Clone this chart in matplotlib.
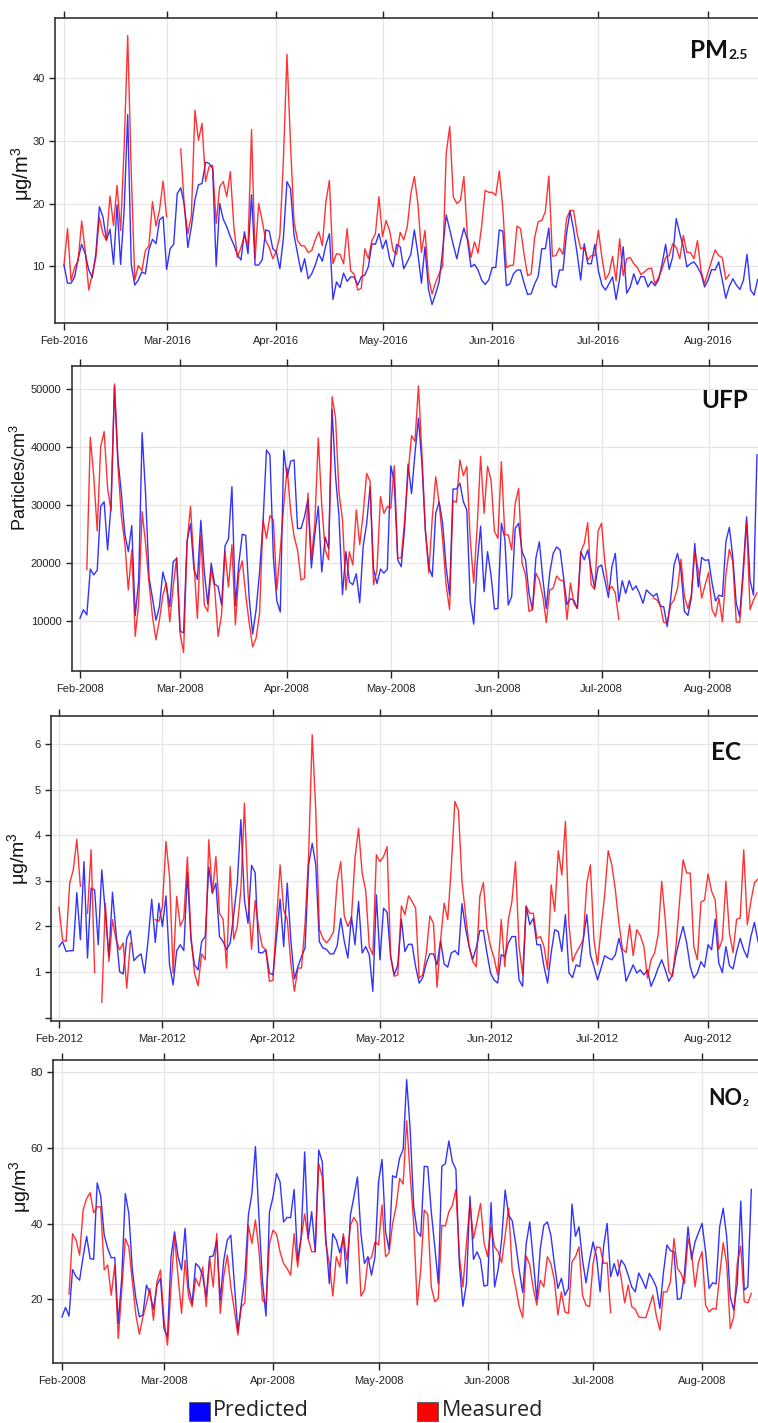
import matplotlib
matplotlib.use("Agg")
import matplotlib.pyplot as plt
import matplotlib.dates as mdates
from matplotlib.patches import Rectangle
import numpy as np
import pandas as pd

plt.rcParams["font.family"] = ["Liberation Sans", "DejaVu Sans"]
plt.rcParams["mathtext.fontset"] = "custom"
plt.rcParams["mathtext.rm"] = "Liberation Sans"

nan = np.nan

# daily values from Feb 1
pm_pred = [
    10.2, 7.3, 7.3, 8.3, 11.2, 13.5, 12.0, 9.4, 8.2, 12.0,
    19.5, 17.9, 14.2, 15.9, 10.3, 19.8, 10.3, 19.0, 34.2, 10.3,
    7.0, 7.8, 9.1, 8.8, 12.6, 14.3, 13.6, 17.4, 17.9, 9.5,
    12.8, 13.5, 21.6, 22.5, 19.8, 13.0, 16.3, 20.6, 23.0, 23.2,
    26.6, 26.4, 25.6, 10.0, 20.0, 17.5, 16.3, 14.7, 13.4, 11.8,
    11.0, 15.5, 12.0, 21.4, 10.2, 10.2, 11.0, 15.8, 15.6, 12.8,
    12.3, 9.6, 14.5, 23.5, 22.4, 15.0, 12.0, 9.1, 11.2, 8.0,
    8.8, 10.2, 12.0, 10.8, 13.4, 15.2, 4.7, 7.5, 6.6, 8.9,
    7.6, 8.3, 8.3, 7.0, 8.3, 8.6, 9.9, 13.6, 13.5, 15.2,
    12.8, 14.2, 11.2, 9.9, 13.5, 13.1, 9.6, 10.7, 11.9, 15.8,
    12.0, 7.3, 13.1, 6.3, 3.9, 5.6, 7.5, 12.6, 18.2, 15.8,
    13.4, 11.2, 13.9, 16.1, 14.2, 9.9, 10.3, 9.4, 7.8, 7.1,
    7.8, 9.8, 9.8, 15.8, 15.6, 6.9, 7.2, 8.8, 9.4, 9.4,
    7.3, 5.5, 5.6, 7.2, 8.4, 12.8, 12.8, 16.1, 7.1, 6.6,
    9.4, 9.4, 15.2, 18.8, 15.8, 12.0, 7.8, 13.6, 10.4, 10.4,
    13.5, 9.3, 7.0, 6.2, 7.2, 8.3, 4.7, 8.0, 13.1, 5.7,
    6.7, 8.8, 7.1, 8.4, 8.3, 6.7, 7.6, 6.9, 7.8, 10.4,
    13.5, 9.5, 11.5, 17.6, 15.2, 13.1, 9.9, 10.4, 10.7, 9.9,
    8.8, 6.7, 7.8, 9.5, 9.4, 10.7, 7.8, 4.9, 6.8, 8.0,
    7.0, 6.3, 7.8, 11.9, 6.2, 5.4, 7.9,
]
pm_meas = [
    10.2, 16.0, 7.7, 9.8, 10.9, 17.2, 12.5, 6.2, 8.8, 11.4,
    17.8, 15.2, 14.1, 21.2, 16.5, 22.9, 15.7, 29.0, 46.8, 25.0,
    7.8, 10.1, 9.3, 12.5, 13.3, 20.3, 16.4, 19.0, 23.6, 17.9,
    nan, nan, nan, 28.7, 19.5, 15.2, 18.1, 34.9, 30.1, 32.8,
    23.5, 25.9, 26.1, 16.8, 22.7, 23.5, 21.1, 25.1, 16.3, 11.4,
    13.0, 14.9, 13.3, 31.8, 11.2, 20.0, 17.3, 14.1, 13.0, 11.2,
    12.4, 14.9, 27.0, 43.8, 29.6, 17.1, 14.1, 13.3, 13.2, 12.2,
    12.5, 14.2, 15.5, 13.3, 20.3, 23.7, 10.4, 12.0, 11.9, 10.4,
    16.0, 9.3, 8.7, 6.2, 6.5, 12.8, 11.2, 14.1, 15.2, 21.1,
    14.7, 17.3, 15.7, 12.5, 11.9, 15.4, 14.2, 16.3, 21.6, 24.3,
    20.0, 12.2, 15.7, 8.2, 5.6, 7.4, 8.8, 10.1, 28.0, 32.3,
    21.1, 20.0, 20.5, 24.3, 14.7, 11.4, 13.9, 12.1, 16.3, 22.1,
    21.8, 21.8, 21.3, 25.2, 19.2, 9.8, 10.1, 10.2, 16.4, 16.0,
    11.9, 8.5, 8.8, 14.6, 17.1, 17.3, 18.7, 24.4, 11.6, 11.7,
    12.9, 11.9, 17.6, 18.9, 18.9, 15.2, 12.8, 13.0, 11.0, 11.7,
    11.7, 15.7, 11.4, 7.9, 8.8, 11.6, 7.7, 14.4, 8.5, 11.2,
    11.4, 10.4, 9.8, 8.7, 9.1, 9.6, 9.7, 7.2, 8.2, 9.6,
    11.4, 11.7, 13.6, 13.0, 11.2, 14.9, 12.2, 12.2, 11.2, 14.1,
    9.3, 7.2, 9.1, 10.9, 12.6, 11.7, 11.4, 7.9, 8.7,
]

ufp_pred = [
    10.5, 12.0, 11.1, 19.0, 18.0, 18.8, 29.8, 30.6, 22.3, 30.0,
    50.5, 38.0, 32.0, 25.0, 22.0, 26.5, 11.0, 17.0, 42.5, 32.0,
    17.5, 14.0, 10.2, 12.5, 18.5, 16.2, 12.5, 20.3, 20.8, 8.3,
    8.0, 23.8, 26.8, 19.0, 17.2, 27.4, 18.5, 13.0, 20.0, 16.4,
    16.0, 12.8, 23.0, 24.2, 33.2, 12.7, 20.0, 25.0, 24.8, 14.0,
    7.8, 12.0, 18.5, 27.0, 39.5, 38.7, 21.0, 13.5, 11.6, 39.5,
    34.8, 37.6, 37.8, 26.0, 26.0, 28.0, 31.0, 19.2, 25.0, 29.8,
    18.5, 24.5, 22.5, 46.5, 35.0, 28.0, 14.6, 22.0, 16.8, 16.3,
    18.2, 13.2, 23.0, 26.8, 33.2, 19.0, 16.5, 19.0, 18.3, 19.0,
    36.8, 34.0, 20.6, 19.4, 26.0, 37.1, 32.0, 39.0, 45.0, 37.2,
    25.7, 19.4, 17.7, 28.6, 30.6, 26.9, 19.4, 14.5, 32.8, 32.8,
    33.8, 30.6, 29.2, 13.4, 9.5, 20.0, 26.4, 15.1, 22.0, 18.0,
    12.1, 12.2, 26.9, 24.3, 12.8, 14.3, 26.0, 26.9, 22.0, 20.6,
    14.8, 12.0, 20.9, 23.7, 17.4, 12.2, 18.3, 21.7, 22.8, 22.3,
    17.6, 12.9, 13.9, 13.6, 12.2, 22.0, 20.6, 22.3, 18.9, 15.7,
    19.3, 19.7, 17.0, 14.1, 19.4, 21.7, 13.4, 17.0, 14.8, 17.0,
    15.4, 16.1, 14.8, 13.1, 15.4, 14.8, 14.3, 14.8, 12.6, 12.5,
    9.1, 13.8, 19.7, 21.7, 18.7, 11.7, 11.0, 14.0, 23.4, 15.9,
    21.0, 20.5, 20.6, 16.6, 13.5, 14.5, 14.3, 23.7, 26.2, 21.1,
    13.1, 10.8, 18.9, 28.0, 17.1, 14.5, 38.7,
]
ufp_meas = [
    nan, nan, 18.9, 41.7, 35.0, 25.6, 40.1, 42.7, 33.0, 29.0,
    50.9, 36.7, 28.0, 23.4, 15.4, 22.3, 7.4, 13.1, 28.9, 23.4,
    16.6, 10.8, 6.8, 10.2, 14.5, 16.6, 9.9, 16.0, 21.0, 7.9,
    4.6, 23.4, 29.8, 20.3, 10.5, 24.9, 12.8, 11.7, 18.9, 15.7,
    7.4, 11.1, 22.1, 15.9, 23.2, 9.4, 18.3, 20.4, 14.5, 9.7,
    5.6, 7.1, 11.3, 27.5, 24.3, 28.2, 27.5, 15.4, 22.3, 30.0,
    36.4, 28.9, 24.6, 22.3, 17.1, 17.4, 32.1, 20.6, 26.9, 41.6,
    30.0, 22.3, 20.6, 48.7, 45.0, 32.1, 27.5, 15.4, 22.0, 19.7,
    29.2, 23.2, 28.6, 35.5, 34.1, 16.3, 18.9, 31.5, 28.6, 29.8,
    29.5, 36.8, 20.9, 20.9, 27.5, 35.5, 42.0, 41.0, 50.6, 39.0,
    25.7, 18.3, 27.8, 34.9, 30.3, 24.0, 16.3, 12.0, 30.8, 30.5,
    37.8, 35.1, 36.7, 24.0, 16.6, 26.3, 38.4, 28.6, 36.7, 34.4,
    25.5, 24.3, 37.5, 24.9, 24.9, 22.3, 30.3, 32.9, 20.0, 18.0,
    11.7, 12.0, 18.3, 17.1, 14.3, 9.8, 15.4, 15.7, 17.8, 17.1,
    17.0, 10.3, 16.6, 13.1, 12.2, 22.0, 23.4, 27.0, 16.3, 15.5,
    25.5, 26.9, 20.0, 15.4, 16.0, 14.9, 10.3, nan, nan, nan,
    nan, nan, nan, nan, nan, nan, 14.0, 13.7, 12.8, 9.8,
    9.7, 12.8, 13.7, 15.7, 20.7, 14.3, 12.2, 14.5, 22.0, 18.9,
    14.0, 16.3, 18.4, 12.0, 10.8, 14.0, 9.9, 18.0, 22.4, 20.3,
    9.9, 9.8, 17.7, 27.2, 12.0, 13.7, 14.9,
]

ec_pred = [
    1.56, 1.67, 1.45, 1.47, 1.47, 2.74, 1.71, 3.42, 1.31, 2.84,
    2.80, 1.60, 3.24, 2.30, 1.34, 2.75, 1.85, 1.01, 0.96, 1.74,
    1.91, 1.25, 1.34, 1.40, 0.98, 1.71, 2.60, 1.65, 2.51, 2.00,
    2.67, 1.16, 0.72, 1.47, 1.60, 1.47, 3.18, 1.71, 1.16, 1.05,
    1.67, 1.78, 3.30, 2.73, 2.95, 1.78, 1.67, 1.49, 1.64, 2.26,
    2.96, 4.34, 2.58, 2.07, 3.34, 3.18, 1.43, 1.42, 1.49, 0.98,
    0.94, 1.78, 2.60, 1.56, 2.95, 1.71, 0.85, 1.12, 1.34, 1.53,
    3.35, 3.82, 3.35, 1.67, 1.53, 1.50, 1.40, 1.40, 1.58, 2.18,
    1.67, 1.31, 2.22, 1.60, 2.55, 1.42, 1.56, 1.38, 0.58, 2.69,
    1.27, 2.40, 2.31, 1.34, 0.94, 1.16, 2.16, 1.45, 1.61, 1.61,
    1.12, 0.76, 0.88, 1.20, 1.40, 1.40, 1.16, 1.69, 1.18, 1.11,
    1.42, 1.47, 1.38, 2.50, 1.96, 1.56, 1.28, 1.53, 1.91, 1.91,
    1.42, 0.98, 0.83, 0.76, 1.38, 1.34, 1.64, 1.78, 1.78, 0.83,
    0.69, 2.45, 2.04, 2.18, 1.60, 1.60, 1.12, 0.76, 1.42, 1.93,
    1.89, 1.45, 2.26, 0.98, 0.88, 1.16, 1.12, 1.71, 2.26, 1.38,
    1.12, 0.83, 1.09, 1.36, 1.31, 1.27, 1.38, 1.74, 1.42, 0.80,
    0.98, 1.16, 0.98, 1.05, 0.94, 1.05, 0.69, 0.87, 1.09, 1.27,
    1.05, 0.80, 0.94, 1.38, 1.71, 2.00, 1.64, 1.12, 0.87, 0.98,
    1.23, 1.11, 1.60, 1.49, 2.16, 1.20, 0.99, 1.56, 1.14, 1.07,
    1.45, 1.74, 1.49, 1.32, 1.78, 2.09, 1.67,
]
ec_meas = [
    2.42, 1.71, 1.67, 2.95, 3.24, 3.91, 2.88, nan, 2.29, 3.68,
    0.99, nan, 0.34, 2.51, 1.23, 2.15, 1.71, 1.49, 1.64, 0.65,
    1.64, nan, nan, nan, nan, nan, nan, 2.15, 2.11, 2.44,
    3.86, 3.09, 0.98, 2.66, 2.01, 2.18, 3.52, 1.80, 0.98, 0.70,
    1.40, 1.27, 3.90, 2.73, 3.53, 2.29, 2.16, 1.09, 3.31, 1.72,
    2.00, 2.80, 4.70, 2.73, 1.50, 2.57, 1.96, 1.56, 1.49, 0.80,
    0.82, 2.15, 3.35, 2.36, 2.15, 1.20, 0.58, 1.09, 1.09, 2.07,
    3.57, 6.20, 4.55, 1.94, 1.74, 1.64, 1.74, 1.89, 2.99, 3.42,
    2.22, 2.00, 2.18, 3.50, 4.15, 3.17, 2.79, 1.56, 1.38, 3.57,
    3.42, 3.53, 3.75, 1.34, 0.91, 0.94, 2.45, 2.26, 2.67, 2.55,
    2.40, 0.87, 0.94, 1.42, 2.23, 2.07, 0.67, 1.71, 2.51, 2.15,
    3.31, 4.74, 4.55, 2.99, 2.26, 1.56, 1.23, 1.12, 2.66, 2.96,
    1.96, 1.56, 1.31, 0.94, 2.15, 1.12, 2.15, 2.55, 3.42, 1.56,
    0.94, 2.44, 2.29, 2.29, 1.74, 1.78, 1.56, 1.05, 2.91, 2.33,
    3.66, 3.13, 4.30, 2.04, 1.23, 1.42, 1.56, 1.71, 2.95, 3.35,
    1.71, 1.16, 1.96, 2.69, 3.66, 3.35, 2.80, 2.07, 1.50, 1.43,
    2.04, 1.36, 1.93, 1.80, 1.56, 0.87, 1.27, 1.42, 1.82, 2.99,
    2.15, 1.01, 0.91, 1.56, 2.55, 3.46, 3.17, 3.17, 1.56, 1.27,
    2.53, 2.58, 3.15, 2.77, 2.58, 1.50, 1.71, 2.99, 1.85, 1.43,
    2.16, 2.18, 3.68, 2.04, 2.55, 2.96, 3.04,
]

no2_pred = [
    15.4, 17.9, 15.6, 27.9, 26.0, 25.1, 31.3, 36.7, 30.8, 30.6,
    50.8, 47.4, 37.0, 33.5, 31.0, 31.1, 13.7, 26.0, 48.0, 42.7,
    27.8, 20.3, 15.4, 15.9, 23.8, 21.6, 17.4, 23.8, 25.6, 12.3,
    10.1, 31.3, 37.9, 31.3, 27.8, 38.8, 23.3, 18.9, 29.5, 28.6,
    26.2, 20.7, 31.3, 31.5, 35.7, 19.8, 30.4, 35.7, 37.0, 24.2,
    11.5, 18.9, 26.0, 42.3, 48.0, 60.4, 41.9, 24.7, 15.6, 43.2,
    47.1, 53.3, 51.1, 40.5, 41.7, 41.6, 49.1, 30.4, 36.6, 59.0,
    36.1, 43.2, 32.6, 59.5, 56.4, 36.6, 24.2, 37.4, 35.7, 32.3,
    36.6, 24.2, 42.3, 47.1, 52.4, 37.4, 29.5, 31.3, 26.4, 31.3,
    51.1, 57.0, 37.9, 33.2, 52.7, 52.2, 57.4, 59.6, 78.1, 64.8,
    44.5, 37.9, 36.7, 55.2, 55.1, 43.2, 33.9, 24.2, 55.2, 55.9,
    61.9, 56.4, 54.4, 29.1, 18.2, 24.2, 47.3, 30.6, 32.6, 30.4,
    23.5, 23.8, 45.6, 23.3, 27.8, 35.7, 48.9, 42.3, 40.8, 34.8,
    27.8, 21.8, 34.8, 40.5, 30.4, 20.0, 33.5, 39.6, 40.5, 37.0,
    29.5, 22.9, 25.6, 21.1, 22.9, 45.2, 36.7, 39.2, 30.4, 24.4,
    30.4, 35.2, 31.3, 22.0, 34.1, 40.1, 26.0, 29.5, 26.2, 30.4,
    29.1, 26.4, 23.3, 22.0, 27.0, 25.1, 22.9, 26.9, 25.3, 23.2,
    17.6, 27.0, 34.4, 32.9, 32.6, 20.0, 20.3, 26.9, 39.2, 30.6,
    35.2, 37.7, 40.1, 32.6, 22.9, 24.4, 24.1, 39.2, 44.1, 36.6,
    20.7, 17.2, 24.2, 46.0, 22.5, 23.3, 49.1,
]
no2_meas = [
    nan, nan, 21.4, 37.4, 35.7, 31.7, 43.6, 46.7, 48.2, 42.9,
    44.5, 44.5, 27.8, 29.1, 21.1, 29.1, 9.7, 22.5, 36.1, 33.9,
    24.7, 15.9, 10.8, 15.4, 18.9, 22.9, 14.5, 24.7, 27.8, 14.5,
    7.9, 23.3, 36.7, 26.0, 16.3, 30.4, 20.7, 18.1, 25.6, 23.5,
    28.6, 18.1, 30.8, 23.3, 37.4, 16.3, 26.2, 31.7, 23.3, 17.2,
    10.6, 18.1, 19.1, 39.6, 34.8, 41.0, 33.0, 19.8, 18.9, 34.8,
    38.3, 37.3, 32.6, 29.5, 28.2, 26.4, 37.4, 28.6, 36.1, 42.6,
    36.1, 32.6, 32.6, 55.9, 52.4, 34.8, 29.5, 20.9, 31.3, 28.6,
    37.4, 30.4, 39.6, 41.7, 40.1, 20.9, 22.5, 30.4, 31.1, 35.2,
    34.4, 45.0, 31.3, 32.3, 40.1, 44.5, 52.0, 50.5, 67.2, 52.9,
    40.1, 18.5, 27.8, 43.6, 42.5, 23.3, 19.4, 20.3, 39.6, 39.4,
    43.2, 44.9, 49.1, 31.3, 23.3, 34.8, 45.4, 36.1, 40.5, 45.4,
    35.0, 31.3, 39.2, 33.9, 32.6, 29.7, 37.0, 44.1, 27.8, 23.3,
    18.1, 15.2, 31.5, 29.1, 22.9, 18.5, 25.1, 23.3, 31.3, 29.5,
    25.1, 15.9, 22.0, 16.7, 16.3, 29.9, 31.3, 33.9, 21.1, 18.5,
    18.1, 29.5, 33.9, 33.7, 29.5, 29.7, 16.5, nan, 30.4, 25.6,
    19.1, 23.8, 18.1, 17.4, 15.4, 15.2, 15.2, 18.1, 21.1, 15.6,
    11.9, 22.0, 22.0, 24.7, 36.1, 28.2, 26.9, 24.2, 36.1, 32.3,
    23.3, 29.9, 32.6, 18.5, 16.7, 17.6, 17.4, 26.4, 35.0, 29.5,
    12.3, 15.4, 29.5, 34.1, 19.4, 19.1, 21.6,
]

ufp_pred = [v * 1000 for v in ufp_pred]
ufp_meas = [v * 1000 for v in ufp_meas]

W, H = 758, 1423
fig = plt.figure(figsize=(W / 100, H / 100), dpi=100)


def fx(x):
    return x / W


def fy(y):
    return 1 - y / H


def panel(year, pred, meas, box, xdays, ylim, yticks, yticklabels,
          ylabel, ylabel_size, ylabel_px):
    left, top, bottom = box
    right = W
    ax = fig.add_axes([fx(left), fy(bottom), (right - left) / W, (bottom - top) / H])
    start = pd.Timestamp(f"{year}-02-01")
    d_pred = pd.date_range(start, periods=len(pred), freq="D")
    d_meas = pd.date_range(start, periods=len(meas), freq="D")
    ax.plot(d_pred, pred, color="#0000ff", lw=1.0, alpha=0.8)
    ax.plot(d_meas, meas, color="#ff0000", lw=1.0, alpha=0.8)
    ax.set_xlim(start + pd.Timedelta(days=xdays[0]), start + pd.Timedelta(days=xdays[1]))
    ax.set_ylim(ylim)
    ax.xaxis.set_major_locator(mdates.MonthLocator())
    ax.xaxis.set_major_formatter(mdates.DateFormatter("%b-%Y"))
    ax.set_yticks(yticks)
    ax.set_yticklabels(yticklabels)
    ax.grid(True, color="#e6e6e6", lw=0.9)
    ax.set_axisbelow(True)
    ax.tick_params(axis="x", direction="out", length=5, width=1, top=True,
                   labeltop=False, labelsize=8, pad=4, colors="#222222")
    ax.tick_params(axis="y", direction="out", length=4.5, width=1, right=False,
                   labelsize=8, pad=3, colors="#222222")
    for side in ["left", "bottom", "top"]:
        ax.spines[side].set_color("#333333")
        ax.spines[side].set_linewidth(1.2)
    ax.spines["right"].set_visible(False)
    ax.set_ylabel(ylabel, fontsize=ylabel_size, va="center", color="#111111")
    ax.yaxis.set_label_coords((ylabel_px[0] - left) / (right - left),
                              (bottom - ylabel_px[1]) / (bottom - top))
    return ax


panel(2016, pm_pred, pm_meas, (55, 18, 323), (-2.54, 196.1), (0.95, 49.6),
      [10, 20, 30, 40], ["10", "20", "30", "40"],
      "μg/m$^{3}$", 14.5, (22, 174))
panel(2008, ufp_pred, ufp_meas, (72, 366, 671), (-2.3, 196.3), (1430, 54000),
      [10000, 20000, 30000, 40000, 50000],
      ["10000", "20000", "30000", "40000", "50000"],
      "Particles/cm$^{3}$", 13, (20, 478))
panel(2012, ec_pred, ec_meas, (51, 716, 1021), (-2.24, 196.0), (-0.07, 6.61),
      [0, 1, 2, 3, 4, 5, 6], ["", "1", "2", "3", "4", "5", "6"],
      "μg/m$^{3}$", 14, (19, 859))
panel(2008, no2_pred, no2_meas, (53, 1060, 1363), (-2.56, 197.9), (3.2, 83.3),
      [20, 40, 60, 80], ["20", "40", "60", "80"],
      "μg/m$^{3}$", 14, (21, 1187))

# panel titles
tkw = dict(ha="right", va="baseline", fontweight="bold", family=["Lato", "DejaVu Sans"],
           color="#111111")
fig.text(fx(728), fy(58), "PM", fontsize=17.5, **tkw)
fig.text(fx(748), fy(59), "2.5", fontsize=10, **tkw)
fig.text(fx(748), fy(408), "UFP", fontsize=17.5, **tkw)
fig.text(fx(741), fy(760), "EC", fontsize=17.5, **tkw)
fig.text(fx(742), fy(1105), "NO", fontsize=15.5, **tkw)
fig.text(fx(749), fy(1106), "2", fontsize=7.5, **tkw)

# legend
lkw = dict(ha="left", va="center", fontsize=15.5, family=["Open Sans", "DejaVu Sans"],
           color="#222222")
fig.add_artist(Rectangle((fx(189), fy(1421)), 21 / W, 19 / H, transform=fig.transFigure,
                         facecolor="#0000ff", edgecolor="#555555", lw=0.6))
fig.text(fx(213), fy(1411), "Predicted", **lkw)
fig.add_artist(Rectangle((fx(417), fy(1421)), 21 / W, 19 / H, transform=fig.transFigure,
                         facecolor="#ff0000", edgecolor="#555555", lw=0.6))
fig.text(fx(442), fy(1410), "Measured", **lkw)

fig.savefig("out.png", dpi=100)
